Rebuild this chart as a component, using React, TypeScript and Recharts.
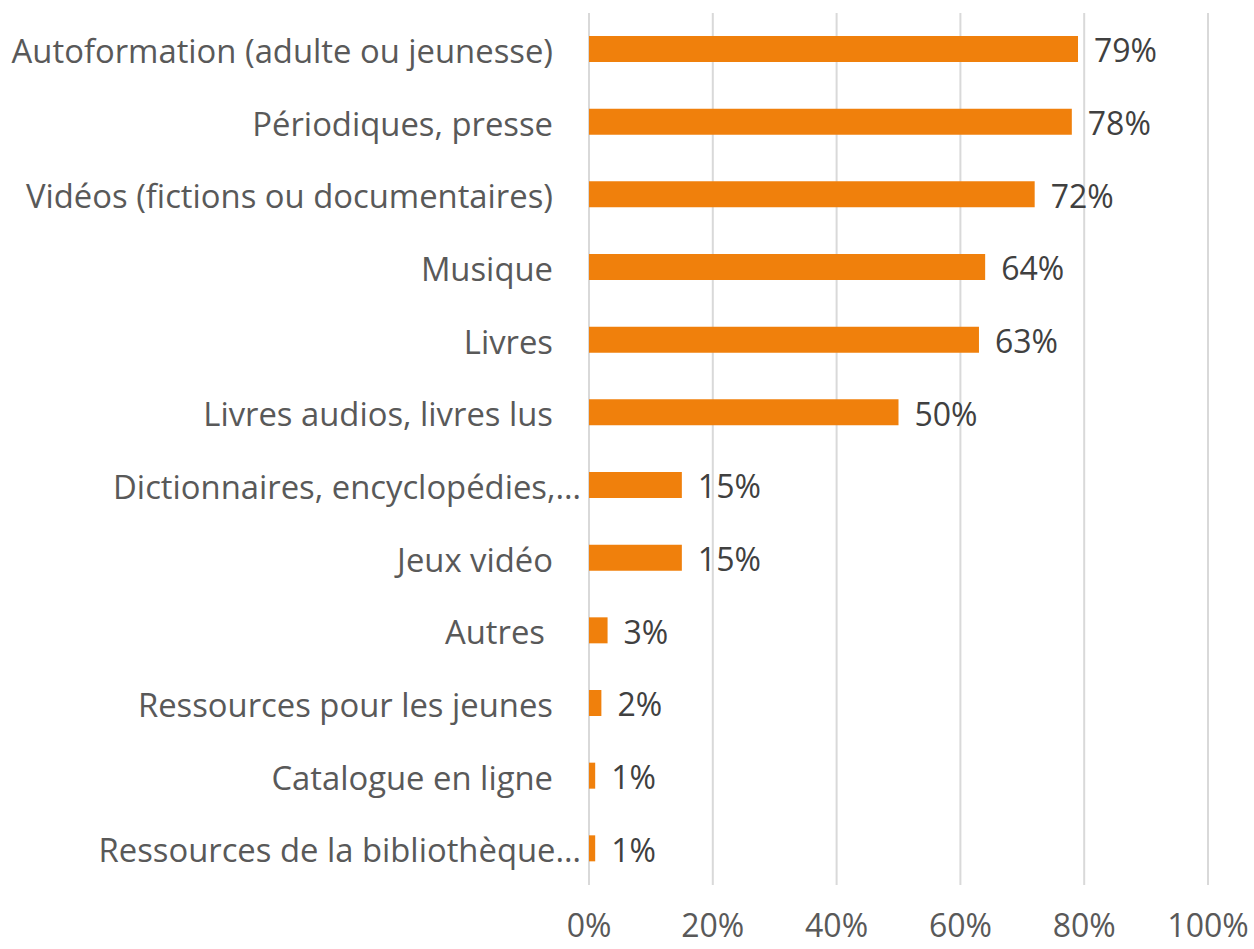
import React from "react";
import { BarChart, Bar, XAxis, YAxis, CartesianGrid, LabelList } from "recharts";

const categories = [
  "Autoformation (adulte ou jeunesse)",
  "Périodiques, presse",
  "Vidéos (fictions ou documentaires)",
  "Musique",
  "Livres",
  "Livres audios, livres lus",
  "Dictionnaires, encyclopédies,…",
  "Jeux vidéo",
  "Autres",
  "Ressources pour les jeunes",
  "Catalogue en ligne",
  "Ressources de la bibliothèque…",
];
const values = [79, 78, 72, 64, 63, 50, 15, 15, 3, 2, 1, 1];
const xTicks = [0, 20, 40, 60, 80, 100];

const data = categories.map((name, i) => ({ name, value: values[i] }));

const FONT = "'Open Sans', sans-serif";

const CategoryTick = (props: any) => {
  const { x, y, payload } = props;
  const label: string = payload.value;
  const truncated = label.endsWith("…");
  const dx = truncated ? 0 : label === "Autres" ? -36 : -28;
  return (
    <text
      x={x + dx}
      y={y + 1}
      textAnchor="end"
      dominantBaseline="central"
      fill="#595959"
      fontSize={32.8}
      fontFamily={FONT}
    >
      {label}
    </text>
  );
};

const XTick = (props: any) => {
  const { x, y, payload } = props;
  return (
    <text
      x={x}
      y={y + 31}
      textAnchor="middle"
      dominantBaseline="central"
      fill="#595959"
      fontSize={32}
      fontFamily={FONT}
    >
      {payload.value + "%"}
    </text>
  );
};

export default function App() {
  return (
    <div style={{ position: "absolute", left: 0, top: 0, width: 1254, height: 949, background: "#fff" }}>
      <BarChart
        width={1254}
        height={949}
        data={data}
        layout="vertical"
        margin={{ top: 13, right: 46, bottom: 0, left: 0 }}
      >
        <CartesianGrid horizontal={false} vertical={true} stroke="#d9d9d9" strokeWidth={2} />
        <XAxis
          type="number"
          domain={[0, 100]}
          ticks={xTicks}
          axisLine={false}
          tickLine={false}
          tick={<XTick />}
          height={64}
          interval={0}
        />
        <YAxis
          type="category"
          dataKey="name"
          width={589}
          axisLine={false}
          tickLine={false}
          tick={<CategoryTick />}
          interval={0}
        />
        <Bar dataKey="value" fill="#F0800C" barSize={26} isAnimationActive={false}>
          <LabelList
            dataKey="value"
            position="right"
            offset={16}
            formatter={(v: any) => v + "%"}
            fill="#404040"
            fontSize={32}
            fontFamily={FONT}
            dy={2}
          />
        </Bar>
      </BarChart>
    </div>
  );
}
